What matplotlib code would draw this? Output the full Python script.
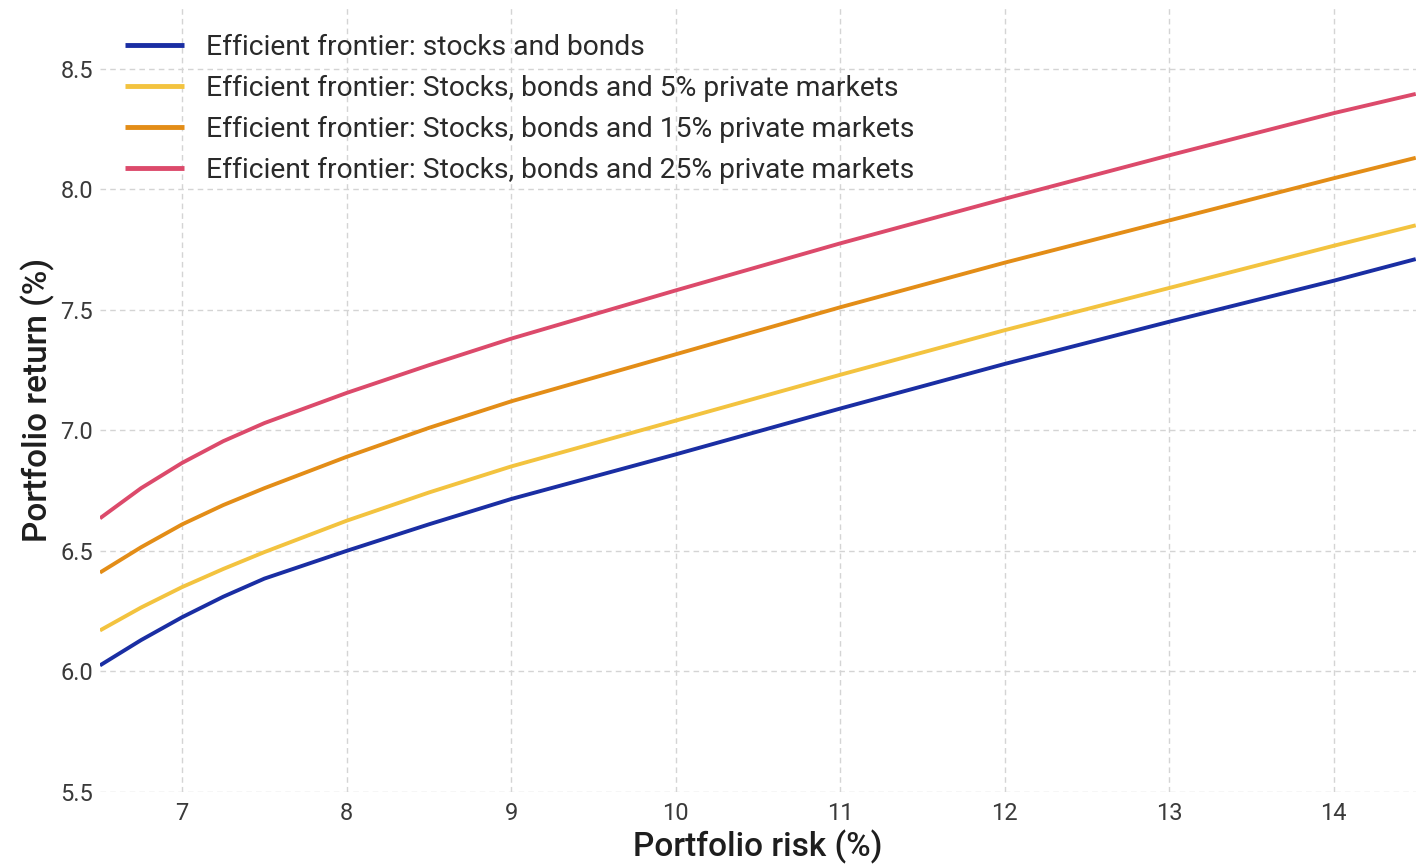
import matplotlib.pyplot as plt

plt.rcParams['font.family'] = ['Roboto', 'DejaVu Sans']

# Portfolio risk (%) sampled along each frontier
risk = [6.5, 6.75, 7, 7.25, 7.5, 8, 8.5, 9, 10, 11, 12, 13, 14, 14.5]

# Portfolio return (%) for each frontier
ret_stocks_bonds = [6.025, 6.13, 6.225, 6.31, 6.385, 6.50, 6.61, 6.715, 6.90, 7.09, 7.275, 7.45, 7.62, 7.71]
ret_pm5 = [6.17, 6.265, 6.35, 6.425, 6.495, 6.625, 6.742, 6.85, 7.04, 7.23, 7.415, 7.59, 7.765, 7.85]
ret_pm15 = [6.41, 6.515, 6.61, 6.69, 6.76, 6.89, 7.01, 7.12, 7.315, 7.51, 7.695, 7.87, 8.045, 8.13]
ret_pm25 = [6.635, 6.76, 6.865, 6.955, 7.03, 7.155, 7.27, 7.38, 7.58, 7.775, 7.96, 8.14, 8.315, 8.395]

labels = [
    'Efficient frontier: stocks and bonds',
    'Efficient frontier: Stocks, bonds and 5% private markets',
    'Efficient frontier: Stocks, bonds and 15% private markets',
    'Efficient frontier: Stocks, bonds and 25% private markets',
]
colors = ['#1a2ea3', '#f3c33f', '#e38d17', '#dc4a6b']

fig = plt.figure(figsize=(14.2, 8.65), dpi=100)
ax = fig.add_axes([0.0704, 0.0844, 0.9266, 0.906])

for y, lab, c in zip([ret_stocks_bonds, ret_pm5, ret_pm15, ret_pm25], labels, colors):
    ax.plot(risk, y, color=c, lw=2.8, label=lab, solid_capstyle='butt', solid_joinstyle='round')

ax.set_xlim(6.5, 14.5)
ax.set_ylim(5.5, 8.75)
ax.set_xticks(range(7, 15))
ax.set_yticks([5.5, 6.0, 6.5, 7.0, 7.5, 8.0, 8.5])
ax.set_yticklabels(['5.5', '6.0', '6.5', '7.0', '7.5', '8.0', '8.5'])
ax.grid(True, linestyle=(0, (4, 3)), color='#d4d4d4', lw=1)
ax.set_axisbelow(True)
for s in ax.spines.values():
    s.set_visible(False)
ax.tick_params(length=0, labelsize=17, labelcolor='#3a3a3a')
ax.tick_params(axis='x', pad=7)
ax.tick_params(axis='y', pad=5)

ax.set_xlabel('Portfolio risk (%)', fontsize=24, fontweight='medium', color='#1e1e1e', labelpad=4)
ax.set_ylabel('Portfolio return (%)', fontsize=24, fontweight='medium', color='#1e1e1e', labelpad=4)

leg = ax.legend(loc='upper left', frameon=False, fontsize=20.3, handlelength=2.1,
                handletextpad=0.75, labelspacing=0.5, borderaxespad=0.0,
                bbox_to_anchor=(0.0106, 0.982))
for t in leg.get_texts():
    t.set_color('#2a2a2a')
for h in leg.get_lines():
    h.set_linewidth(3.5)

fig.savefig('out.png', dpi=100, facecolor='white')
